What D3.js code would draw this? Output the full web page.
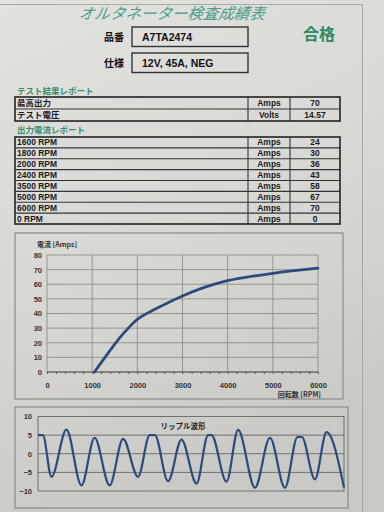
<!DOCTYPE html>
<html>
<head>
<meta charset="utf-8">
<script src="https://cdn.jsdelivr.net/npm/d3@7"></script>
<style>
	body { margin: 0; background: #d8d8d4; }
	svg { display: block; }
</style>
</head>
<body>
<svg id="sheet"></svg>
<script>
//テスト結果
var summaryNames = ["最高出力", "テスト電圧"];
var summaryUnits = ["Amps", "Volts"];
var summaryValues = ["70", "14.57"];

//出力電流
var rpmNames = ["1600 RPM", "1800 RPM", "2000 RPM", "2400 RPM", "3500 RPM", "5000 RPM", "6000 RPM", "0 RPM"];
var rpmUnits = ["Amps", "Amps", "Amps", "Amps", "Amps", "Amps", "Amps", "Amps"];
var rpmValues = ["24", "30", "36", "43", "58", "67", "70", "0"];

//電流カーブ
var curveRpm = [1050, 1600, 1800, 2000, 2400, 3000, 3500, 4000, 5000, 6000];
var curveAmps = [0, 23, 30, 36, 43, 52, 58, 62.5, 67.5, 71];
var ampTicks = [0, 10, 20, 30, 40, 50, 60, 70, 80];
var rpmTicks = [0, 1000, 2000, 3000, 4000, 5000, 6000];

//リップル波形
var rippleT = [0, 1.6, 4.4, 9.3, 14.2, 18.5, 23.4, 27.8, 32.7, 36.5, 38.2, 42.5, 46.9, 51.8, 55.6, 56.7, 61.6, 65.4, 70.9, 75.8, 80.7, 84.8, 86.2, 90.5, 94.3, 100];
var rippleV = [5, 5, -6.2, 6.5, -8.5, 4.3, -8.5, 4.0, -6.2, 5, 5, -7.4, 3.8, -8, 5, 5, -7.5, 6.4, -9.1, 4.3, -9.1, 4.5, 4.5, -6.9, 5.8, -9.1];
var rippleTicks = [-10, -5, 0, 5, 10];

var W = 384, H = 512;
var jp = "'Noto Sans CJK JP', sans-serif";
var latin = "'Liberation Sans', Arial, sans-serif";
var green = "#3a8c6c";
var navy = "#2c4a7c";

var svg = d3.select("#sheet")
	.attr("width", W)
	.attr("height", H);

//紙
var grad = svg.append("defs").append("linearGradient")
	.attr("id", "paper")
	.attr("x1", 0).attr("y1", 0).attr("x2", 0.3).attr("y2", 1);
grad.append("stop").attr("offset", "0").attr("stop-color", "#e2e3df");
grad.append("stop").attr("offset", "0.6").attr("stop-color", "#d6d7d3");
grad.append("stop").attr("offset", "1").attr("stop-color", "#c9cac6");

svg.append("rect")
	.attr("width", W).attr("height", H)
	.attr("fill", "url(#paper)");

svg.append("path")
	.attr("d", "M0,4.5H362.5V512")
	.attr("fill", "none")
	.attr("stroke", "#9a9b98")
	.attr("stroke-width", 0.8);

//ヘッダー
svg.append("text")
	.attr("x", 78).attr("y", 19)
	.attr("font-family", jp)
	.attr("font-size", 15.5)
	.attr("font-style", "italic")
	.attr("fill", "#4a9e8c")
	.attr("transform", "skewX(-8) translate(3,0)")
	.text("オルタネーター検査成績表");

svg.append("text")
	.attr("x", 303).attr("y", 40)
	.attr("font-family", jp)
	.attr("font-weight", "bold")
	.attr("font-size", 16)
	.attr("fill", "#2f8a5e")
	.text("合格");

var header = [["品番", "A7TA2474", 27], ["仕様", "12V, 45A, NEG", 53]];
header.forEach(function(h) {
	svg.append("text")
		.attr("x", 104).attr("y", h[2] + 14)
		.attr("font-family", jp)
		.attr("font-weight", "bold")
		.attr("font-size", 10)
		.attr("fill", "#111")
		.text(h[0]);
	svg.append("rect")
		.attr("x", 132).attr("y", h[2])
		.attr("width", 116).attr("height", 19.5)
		.attr("fill", "none")
		.attr("stroke", "#333")
		.attr("stroke-width", 1.4);
	svg.append("text")
		.attr("x", 142).attr("y", h[2] + 14)
		.attr("font-family", latin)
		.attr("font-weight", "bold")
		.attr("font-size", 10.5)
		.attr("fill", "#111")
		.text(h[1]);
});

//表
function drawTable(title, titleY, names, units, values, y0, y1) {
	var cols = [15, 248, 290, 340];
	var y = d3.scaleBand()
		.domain(d3.range(names.length))
		.range([y0, y1]);

	svg.append("text")
		.attr("x", 17).attr("y", titleY)
		.attr("font-family", jp)
		.attr("font-weight", "bold")
		.attr("font-size", 8.5)
		.attr("fill", green)
		.text(title);

	var g = svg.append("g");

	g.selectAll("line.row")
		.data(d3.range(1, names.length))
		.join("line")
		.attr("class", "row")
		.attr("x1", cols[0]).attr("x2", cols[3])
		.attr("y1", function(d) { return y(d); })
		.attr("y2", function(d) { return y(d); })
		.attr("stroke", "#333")
		.attr("stroke-width", 1.1);

	g.selectAll("line.col")
		.data(cols.slice(1, 3))
		.join("line")
		.attr("class", "col")
		.attr("x1", function(d) { return d; })
		.attr("x2", function(d) { return d; })
		.attr("y1", y0).attr("y2", y1)
		.attr("stroke", "#333")
		.attr("stroke-width", 1.1);

	g.append("rect")
		.attr("x", cols[0]).attr("y", y0)
		.attr("width", cols[3] - cols[0]).attr("height", y1 - y0)
		.attr("fill", "none")
		.attr("stroke", "#222")
		.attr("stroke-width", 1.6);

	var fs = Math.min(8.5, y.bandwidth() * 0.78);
	var rows = g.selectAll("g.r")
		.data(names.map(function(n, i) { return { i: i, name: n, unit: units[i], value: values[i] }; }))
		.join("g")
		.attr("class", "r")
		.attr("font-weight", "bold")
		.attr("font-size", fs)
		.attr("fill", "#1a1a1a");

	rows.append("text")
		.attr("x", 17)
		.attr("y", function(d) { return y(d.i) + y.bandwidth() / 2 + fs * 0.36; })
		.attr("font-family", function(d) { return /[^\x00-\x7f]/.test(d.name) ? jp : latin; })
		.text(function(d) { return d.name; });

	rows.append("text")
		.attr("x", (cols[1] + cols[2]) / 2)
		.attr("y", function(d) { return y(d.i) + y.bandwidth() / 2 + fs * 0.36; })
		.attr("text-anchor", "middle")
		.attr("font-family", latin)
		.text(function(d) { return d.unit; });

	rows.append("text")
		.attr("x", (cols[2] + cols[3]) / 2)
		.attr("y", function(d) { return y(d.i) + y.bandwidth() / 2 + fs * 0.36; })
		.attr("text-anchor", "middle")
		.attr("font-family", latin)
		.text(function(d) { return d.value; });
}

drawTable("テスト結果レポート", 93.5, summaryNames, summaryUnits, summaryValues, 97, 121);
drawTable("出力電流レポート", 133, rpmNames, rpmUnits, rpmValues, 137, 224);

//電流グラフ
svg.append("rect")
	.attr("x", 15).attr("y", 233)
	.attr("width", 328).attr("height", 166)
	.attr("fill", "none")
	.attr("stroke", "#8a8b88")
	.attr("stroke-width", 1.2);

var x = d3.scaleLinear().domain([0, 6000]).range([47, 318]);
var y = d3.scaleLinear().domain([0, 80]).range([372, 255]);

var grid = svg.append("g").attr("stroke", "#8d8e8b").attr("stroke-width", 0.9);
grid.selectAll("line.h")
	.data(ampTicks)
	.join("line")
	.attr("class", "h")
	.attr("x1", x(0)).attr("x2", x(6000))
	.attr("y1", function(d) { return y(d); })
	.attr("y2", function(d) { return y(d); });
grid.selectAll("line.v")
	.data(rpmTicks)
	.join("line")
	.attr("class", "v")
	.attr("x1", function(d) { return x(d); })
	.attr("x2", function(d) { return x(d); })
	.attr("y1", y(0)).attr("y2", y(80));

svg.append("line")
	.attr("x1", x(0)).attr("x2", x(6000))
	.attr("y1", y(0)).attr("y2", y(0))
	.attr("stroke", "#555").attr("stroke-width", 1.1);

svg.append("g")
	.attr("transform", "translate(0," + y(0) + ")")
	.call(d3.axisBottom(x).ticks(30).tickSize(2).tickFormat(""))
	.call(function(g) { g.select(".domain").remove(); })
	.selectAll("line").attr("stroke", "#555");

svg.append("g")
	.attr("transform", "translate(" + x(0) + ",0)")
	.call(d3.axisLeft(y).tickValues(ampTicks).tickSize(0).tickPadding(5))
	.call(function(g) { g.select(".domain").remove(); })
	.selectAll("text")
	.attr("font-family", latin)
	.attr("font-weight", "bold")
	.attr("font-size", 7.5)
	.attr("fill", "#333");

svg.append("g")
	.attr("transform", "translate(0," + y(0) + ")")
	.call(d3.axisBottom(x).tickValues(rpmTicks).tickSize(0).tickPadding(11).tickFormat(d3.format("d")))
	.call(function(g) { g.select(".domain").remove(); })
	.selectAll("text")
	.attr("font-family", latin)
	.attr("font-weight", "bold")
	.attr("font-size", 7.5)
	.attr("fill", "#333");

svg.append("text")
	.attr("x", 37).attr("y", 247)
	.attr("font-family", jp)
	.attr("font-weight", "bold")
	.attr("font-size", 7)
	.attr("fill", "#333")
	.text("電流 [Amps]");

svg.append("text")
	.attr("x", 321).attr("y", 397)
	.attr("text-anchor", "end")
	.attr("font-family", jp)
	.attr("font-weight", "bold")
	.attr("font-size", 7)
	.attr("fill", "#333")
	.text("回転数 [RPM]");

var line = d3.line()
	.x(function(d) { return x(d[0]); })
	.y(function(d) { return y(d[1]); })
	.curve(d3.curveCatmullRom.alpha(0.5));

svg.append("path")
	.datum(d3.zip(curveRpm, curveAmps))
	.attr("d", line)
	.attr("fill", "none")
	.attr("stroke", navy)
	.attr("stroke-width", 2.8)
	.attr("stroke-linecap", "round");

//リップル波形
svg.append("rect")
	.attr("x", 15).attr("y", 407)
	.attr("width", 333).attr("height", 101)
	.attr("fill", "none")
	.attr("stroke", "#8a8b88")
	.attr("stroke-width", 1.2);

var rx = d3.scaleLinear().domain([0, 100]).range([38, 344]);
var ry = d3.scaleLinear().domain([-10, 10]).range([491, 416.5]);

svg.append("g")
	.selectAll("line")
	.data(rippleTicks)
	.join("line")
	.attr("x1", rx(0)).attr("x2", rx(100))
	.attr("y1", function(d) { return ry(d); })
	.attr("y2", function(d) { return ry(d); })
	.attr("stroke", "#6f706d")
	.attr("stroke-width", 1);

svg.append("path")
	.attr("d", "M" + rx(0) + "," + ry(10) + "V" + ry(-10) + "M" + rx(100) + "," + ry(10) + "V" + ry(-10))
	.attr("stroke", "#6f706d")
	.attr("stroke-width", 1);

svg.append("g")
	.attr("transform", "translate(" + rx(0) + ",0)")
	.call(d3.axisLeft(ry).tickValues(rippleTicks).tickSize(0).tickPadding(6))
	.call(function(g) { g.select(".domain").remove(); })
	.selectAll("text")
	.attr("font-family", latin)
	.attr("font-weight", "bold")
	.attr("font-size", 7.5)
	.attr("fill", "#333");

svg.append("text")
	.attr("x", 183).attr("y", 429)
	.attr("text-anchor", "middle")
	.attr("font-family", jp)
	.attr("font-weight", "bold")
	.attr("font-size", 7.5)
	.attr("fill", "#222")
	.text("リップル波形");

var ripple = d3.line()
	.x(function(d) { return rx(d[0]); })
	.y(function(d) { return ry(d[1]); })
	.curve(d3.curveMonotoneX);

svg.append("path")
	.datum(d3.zip(rippleT, rippleV))
	.attr("d", ripple)
	.attr("fill", "none")
	.attr("stroke", navy)
	.attr("stroke-width", 2.2)
	.attr("stroke-linejoin", "round");
</script>
</body>
</html>
